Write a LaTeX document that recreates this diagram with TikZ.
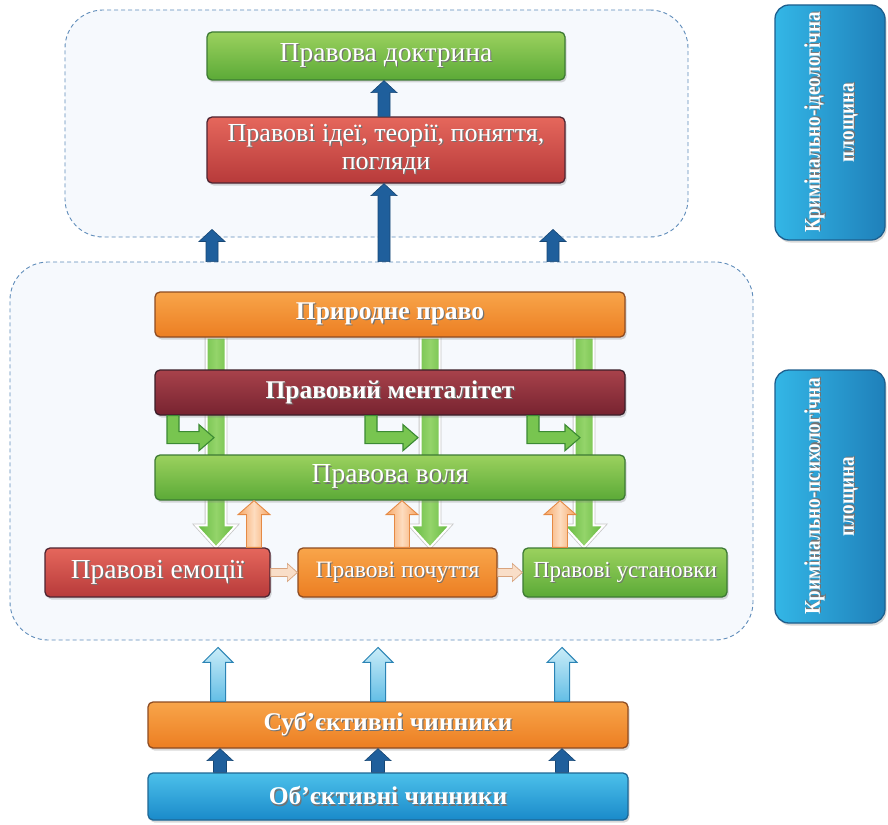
\documentclass[tikz,border=0pt]{standalone}
\usepackage{fontspec}
\setmainfont{Liberation Serif}
\newfontfamily\sidefont[FakeStretch=0.85]{Liberation Serif}
\usetikzlibrary{calc,shadows}

\pgfdeclarelayer{bg}
\pgfdeclarelayer{mid}
\pgfsetlayers{bg,mid,main}

% palette
\definecolor{panelline}{HTML}{5F8CBA}
\definecolor{panelfill}{HTML}{F6F9FD}
\definecolor{greenT}{HTML}{9BD15E}
\definecolor{greenB}{HTML}{5BAA37}
\definecolor{greenD}{HTML}{3D7A34}
\definecolor{redT}{HTML}{E5675C}
\definecolor{redB}{HTML}{B73A3A}
\definecolor{redD}{HTML}{4E2532}
\definecolor{dredT}{HTML}{A8424B}
\definecolor{dredB}{HTML}{772330}
\definecolor{dredD}{HTML}{3B1E29}
\definecolor{orT}{HTML}{F8A54A}
\definecolor{orB}{HTML}{EC7E22}
\definecolor{orD}{HTML}{8E4C22}
\definecolor{blT}{HTML}{4CC0EA}
\definecolor{blB}{HTML}{1A8ACA}
\definecolor{blD}{HTML}{1F6794}
\definecolor{sideL}{HTML}{33B6E6}
\definecolor{sideR}{HTML}{1F80BA}
\definecolor{sideD}{HTML}{1E5F8E}
\definecolor{arrblue}{HTML}{1F5F9C}
\definecolor{arrgreen}{HTML}{62B83E}
\definecolor{arrgreenL}{HTML}{94D46A}
\definecolor{arrorange}{HTML}{F6A665}
\definecolor{arrorangeL}{HTML}{FDDCBF}
\definecolor{arrorangeD}{HTML}{E58A45}
\definecolor{arrlbT}{HTML}{C9ECF8}
\definecolor{arrlbB}{HTML}{63BEE6}
\definecolor{arrlbD}{HTML}{2B84B5}
\definecolor{peach}{HTML}{F9DEC8}
\definecolor{peachD}{HTML}{D9A47E}
\definecolor{lgreen}{HTML}{78C550}
\definecolor{lgreenD}{HTML}{3B8A33}

% white label with a soft dark copy underneath
\newcommand\shtxt[1]{\leavevmode\rlap{\kern1.2pt\raisebox{-1.2pt}{\color{black!55}#1}}#1}
% two-line caption set upright from bottom to top
\newcommand\uptxt[2]{\rotatebox{90}{\begin{tabular}{@{}c@{}}\shtxt{#1}\\\shtxt{#2}\end{tabular}}}

% vertical block arrow: style, shaft half width, head half width, head length, tail, tip
\newcommand\varrow[6]{%
  \path[#1] let \p1=(#5), \p2=(#6), \n1={sign(\y2-\y1)} in
    ({\x1-#2},\y1) -- ({\x1-#2},{\y2-(\n1)*#4}) -- ({\x1-#3},{\y2-(\n1)*#4}) --
    (\x1,\y2) -- ({\x1+#3},{\y2-(\n1)*#4}) -- ({\x1+#2},{\y2-(\n1)*#4}) --
    ({\x1+#2},\y1) -- cycle;}
% horizontal block arrow, same arguments
\newcommand\harrow[6]{%
  \path[#1] let \p1=(#5), \p2=(#6), \n1={sign(\x2-\x1)} in
    (\x1,{\y1-#2}) -- ({\x2-(\n1)*#4},{\y1-#2}) -- ({\x2-(\n1)*#4},{\y1-#3}) --
    (\x2,\y1) -- ({\x2-(\n1)*#4},{\y1+#3}) -- ({\x2-(\n1)*#4},{\y1+#2}) --
    (\x1,{\y1+#2}) -- cycle;}
% bent arrow leaving the mentality bar: style, left x of stem, x of tip
\newcommand\larrow[3]{%
  \path[#1] let \p1=(#2,0 |- ment.south), \p2=(#3,0) in
    (\x1,\y1) -- (\x1,{\y1-28pt}) -- ({\x2-15pt},{\y1-28pt}) -- ({\x2-15pt},{\y1-35pt}) --
    (\x2,{\y1-22pt}) -- ({\x2-15pt},{\y1-9pt}) -- ({\x2-15pt},{\y1-16pt}) --
    ({\x1+12pt},{\y1-16pt}) -- ({\x1+12pt},\y1) -- cycle;}

\tikzset{
  panel/.style={draw=panelline, dashed, dash pattern=on 4pt off 3pt, line width=0.9pt,
    fill=panelfill, rounded corners=38pt, inner sep=0pt},
  box/.style n args={3}{rounded corners=5pt, draw=#3, line width=1.3pt,
    top color=#1, bottom color=#2, text=white, align=center, inner sep=0pt,
    drop shadow={shadow xshift=1.5pt, shadow yshift=-2.5pt, opacity=0.3}},
  greenbox/.style={box={greenT}{greenB}{greenD}},
  redbox/.style={box={redT}{redB}{redD}},
  dredbox/.style={box={dredT}{dredB}{dredD}},
  orbox/.style={box={orT}{orB}{orD}},
  bluebox/.style={box={blT}{blB}{blD}},
  sidebox/.style={rounded corners=14pt, draw=sideD, line width=1.3pt,
    left color=sideL, right color=sideR, text=white, inner sep=0pt,
    font=\sidefont\bfseries\fontsize{22.5}{34}\selectfont,
    drop shadow={shadow xshift=1.5pt, shadow yshift=-2.5pt, opacity=0.3}},
  big/.style={font=\fontsize{27.5}{29}\selectfont},
  bigb/.style={font=\bfseries\fontsize{25.5}{28}\selectfont},
  darkarr/.style={fill=arrblue, draw=arrblue!75!black, line width=0.6pt},
  greenarr/.style={left color=arrgreen, right color=arrgreen, middle color=arrgreenL,
    draw=white, line width=2pt, preaction={draw=black!22, line width=3.6pt}},
  orangearr/.style={left color=arrorange, right color=arrorange, middle color=arrorangeL,
    draw=arrorangeD, line width=0.9pt},
  lbluearr/.style={top color=arrlbT, bottom color=arrlbB, draw=arrlbD, line width=1pt},
  peacharr/.style={fill=peach, draw=peachD, line width=0.7pt},
  bentarr/.style={fill=lgreen, draw=lgreenD, line width=1.1pt},
}

\begin{document}
\begin{tikzpicture}[x=1pt, y=-1pt]
\useasboundingbox (0,0) rectangle (888,824);

% page ground and the two dashed areas
\begin{pgfonlayer}{bg}
  \fill[white] (0,0) rectangle (888,824);
  \node[panel, minimum width=623pt, minimum height=227pt] (p1) at (376.5,123.5) {};
  \node[panel, minimum width=743pt, minimum height=378pt] (p2) at (381.5,451) {};
\end{pgfonlayer}

% side captions
\node[sidebox, minimum width=110pt, minimum height=235pt] (s1) at (830,122.5)
  {\uptxt{Кримінально-ідеологічна}{площина}};
\node[sidebox, minimum width=110pt, minimum height=253pt] (s2) at (830,496.5)
  {\uptxt{Кримінально-психологічна}{площина}};

% upper area
\node[greenbox, big, minimum width=358pt, minimum height=48pt] (doc) at (386,56)
  {\shtxt{Правова доктрина}};
\node[redbox, font=\fontsize{26}{28}\selectfont, minimum width=358pt, minimum height=66pt] (ideas) at (386,150)
  {\shtxt{Правові ідеї, теорії, поняття,}\\\shtxt{погляди}};

% lower area
\node[orbox, bigb, minimum width=470pt, minimum height=45pt] (pp) at (390,314.5)
  {\shtxt{Природне право}};
\node[dredbox, bigb, minimum width=470pt, minimum height=45pt] (ment) at (390,392.5)
  {\shtxt{Правовий менталітет}};
\node[greenbox, big, minimum width=470pt, minimum height=45pt] (volia) at (390,477.5)
  {\shtxt{Правова воля}};
\node[redbox, font=\fontsize{27.5}{29}\selectfont, minimum width=225pt, minimum height=49pt] (emo) at (157.5,572.5)
  {\shtxt{Правові емоції}};
\node[orbox, font=\fontsize{23.5}{26}\selectfont, minimum width=199pt, minimum height=49pt] (poch) at (397.5,572.5)
  {\shtxt{Правові почуття}};
\node[greenbox, font=\fontsize{23}{26}\selectfont, minimum width=204pt, minimum height=49pt] (ust) at (625,572.5)
  {\shtxt{Правові установки}};

% factors
\node[orbox, bigb, minimum width=480pt, minimum height=46pt] (subj) at (388,725)
  {\shtxt{Суб’єктивні чинники}};
\node[bluebox, bigb, minimum width=480pt, minimum height=47pt] (obj) at (388,796.5)
  {\shtxt{Об’єктивні чинники}};

% green flows running down behind the bars
\begin{pgfonlayer}{mid}
  \varrow{greenarr}{9.5pt}{20pt}{22pt}{216,0 |- pp.south}{216,0 |- emo.north}
  \varrow{greenarr}{9.5pt}{20pt}{22pt}{430,0 |- pp.south}{430,0 |- poch.north}
  \varrow{greenarr}{9.5pt}{20pt}{22pt}{584,0 |- pp.south}{584,0 |- ust.north}
\end{pgfonlayer}

% bent arrows from the mentality bar
\larrow{bentarr}{167}{214}
\larrow{bentarr}{365}{418}
\larrow{bentarr}{527}{580}

% feedback from the lower boxes to the will
\varrow{orangearr}{7.5pt}{16pt}{14pt}{254,0 |- emo.north}{254,0 |- volia.south}
\varrow{orangearr}{7.5pt}{16pt}{14pt}{402,0 |- poch.north}{402,0 |- volia.south}
\varrow{orangearr}{7.5pt}{16pt}{14pt}{560,0 |- ust.north}{560,0 |- volia.south}

% links between the lower boxes
\harrow{peacharr}{4pt}{9pt}{10pt}{emo.east}{poch.west}
\harrow{peacharr}{4pt}{9pt}{10pt}{poch.east}{ust.west}

% upper area arrows
\varrow{darkarr}{6pt}{13pt}{12pt}{384,0 |- ideas.north}{384,0 |- doc.south}
\varrow{darkarr}{6pt}{13pt}{12pt}{384,0 |- p2.north}{384,0 |- ideas.south}
\varrow{darkarr}{6pt}{13pt}{12pt}{212,0 |- p2.north}{$(212,0 |- p1.south)+(0,-8)$}
\varrow{darkarr}{6pt}{13pt}{12pt}{553,0 |- p2.north}{$(553,0 |- p1.south)+(0,-8)$}

% factors feeding upward
\varrow{lbluearr}{7.5pt}{15pt}{15pt}{218,0 |- subj.north}{$(218,0 |- p2.south)+(0,7)$}
\varrow{lbluearr}{7.5pt}{15pt}{15pt}{378,0 |- subj.north}{$(378,0 |- p2.south)+(0,7)$}
\varrow{lbluearr}{7.5pt}{15pt}{15pt}{562,0 |- subj.north}{$(562,0 |- p2.south)+(0,7)$}
\varrow{darkarr}{6.5pt}{13pt}{12pt}{220,0 |- obj.north}{220,0 |- subj.south}
\varrow{darkarr}{6.5pt}{13pt}{12pt}{378,0 |- obj.north}{378,0 |- subj.south}
\varrow{darkarr}{6.5pt}{13pt}{12pt}{562,0 |- obj.north}{562,0 |- subj.south}
\end{tikzpicture}
\end{document}
